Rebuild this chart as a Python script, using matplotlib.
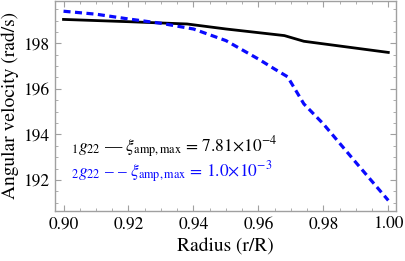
import numpy as np
import matplotlib
matplotlib.use("Agg")
import matplotlib.pyplot as plt
from matplotlib.ticker import MultipleLocator

plt.rcParams['font.family'] = ['STIXGeneral', 'DejaVu Serif']
plt.rcParams['mathtext.fontset'] = 'stix'

r_black = [0.900, 0.920, 0.938, 0.950, 0.968, 0.974, 1.000]
w_black = [199.05, 198.95, 198.85, 198.63, 198.34, 198.09, 197.60]

r_blue = [0.900, 0.910, 0.920, 0.930, 0.940, 0.950, 0.960, 0.965, 0.969, 0.974, 0.980, 0.990, 1.000]
w_blue = [199.41, 199.28, 199.07, 198.88, 198.63, 198.12, 197.31, 196.87, 196.53, 195.34, 194.46, 192.77, 191.10]

label1 = r"$_1g_{22}$ — $\xi_{\mathrm{amp,max}}$ = 7.81×10$^{-4}$"
label2 = r"$_2g_{22}$ – – $\xi_{\mathrm{amp,max}}$ = 1.0×10$^{-3}$"

fig = plt.figure(figsize=(4.05, 2.61), dpi=100)
ax = fig.add_axes([0.136, 0.192, 0.842, 0.806])

ax.plot(r_black, w_black, color='black', lw=2.0)
ax.plot(r_blue, w_blue, color='#0a0aff', lw=2.3, dashes=(2.2, 1.4))

ax.set_xlim(0.8974, 1.0024)
ax.set_ylim(190.64, 199.88)
ax.xaxis.set_major_locator(MultipleLocator(0.02))
ax.xaxis.set_minor_locator(MultipleLocator(0.005))
ax.yaxis.set_major_locator(MultipleLocator(2))
ax.yaxis.set_minor_locator(MultipleLocator(0.5))
ax.xaxis.set_major_formatter(plt.FuncFormatter(lambda v, p: f"{v:.2f}"))

for s in ax.spines.values():
    s.set_color('#a0a0a0')
    s.set_linewidth(1.0)
ax.tick_params(which='both', direction='in', top=True, right=True,
               color='#a0a0a0', labelsize=12.5, pad=4)
ax.tick_params(which='major', length=4)
ax.tick_params(which='minor', length=2.2)

ax.set_xlabel("Radius (r/R)", fontsize=14, labelpad=4)
ax.set_ylabel("Angular velocity (rad/s)", fontsize=14, labelpad=3)

ax.text(0.048, 0.302, label1, transform=ax.transAxes, fontsize=12.5,
        color='black', va='center')
ax.text(0.048, 0.182, label2, transform=ax.transAxes, fontsize=12.5,
        color='#0a0aff', va='center')

fig.savefig("out.png", dpi=100)
